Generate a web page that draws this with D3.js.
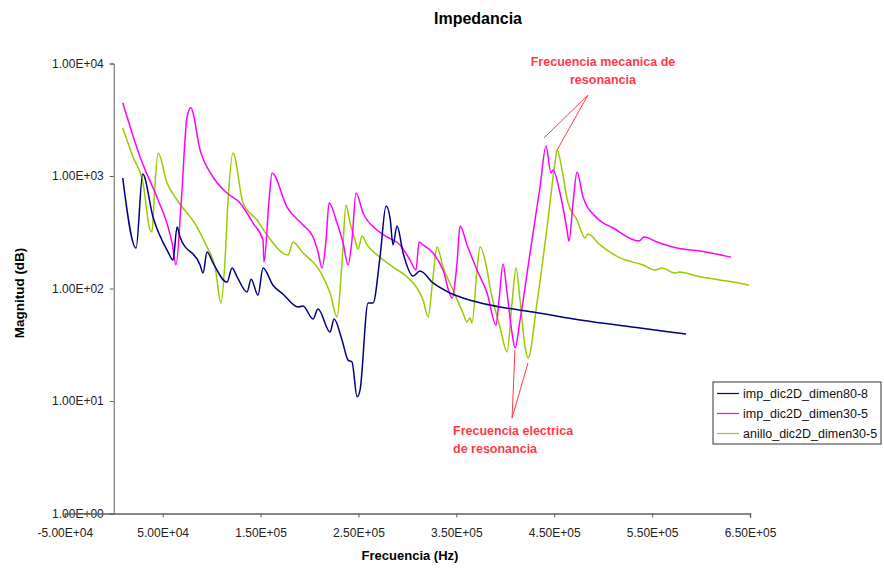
<!DOCTYPE html>
<html>
<head>
<meta charset="utf-8">
<script src="https://cdn.jsdelivr.net/npm/d3@7/dist/d3.min.js"></script>
<style>
  html, body { margin: 0; padding: 0; background: #ffffff; }
  svg { display: block; }
  text { font-family: "Liberation Sans", Arial, sans-serif; }
</style>
</head>
<body>
<svg id="chart" width="884" height="568"></svg>
<script>
// Frequency (Hz) and impedance magnitude for each simulated transducer
const freq80_8 = [9200, 22800, 29600, 40100, 55500, 60600, 64700, 67700, 88200, 91200, 95300, 101400, 115700, 120900, 126000, 136200, 140300, 147400, 152500, 162700, 173000, 188300, 193400, 203600, 208700, 221000, 225100, 233200, 239400, 243400, 248600, 251600, 259800, 264900, 272000, 278200, 282300, 285300, 289400, 295600, 305800, 312900, 326200, 343600, 367100, 394600, 428400, 476400, 537700, 584700];
const mag80_8 = [960, 229, 1042, 432, 211, 179, 352, 287, 162, 137, 211, 169, 114, 152, 127, 93, 121, 87.5, 152, 107, 89, 68.5, 69.9, 53.6, 65.7, 41.0, 53.6, 34.8, 23.1, 22.2, 10.9, 12.5, 74.3, 74.3, 190, 541, 423, 244, 359, 207, 129, 143, 112, 91.2, 77.4, 68.5, 61.8, 52.5, 44.6, 39.4];

const freq30_5 = [9200, 26900, 45300, 55500, 59600, 63600, 68750, 74900, 78700, 88200, 101400, 115700, 129000, 142300, 152500, 153500, 158700, 161700, 177000, 193400, 203600, 208700, 212800, 216900, 220000, 228100, 234300, 239400, 243400, 247500, 254700, 269000, 279200, 292500, 302700, 308800, 311900, 316000, 326200, 336400, 345600, 350700, 353800, 360900, 371100, 381400, 390600, 393600, 397700, 401800, 406900, 410000, 415100, 425300, 435500, 441600, 446700, 448800, 455900, 463100, 465100, 469200, 473300, 479400, 493700, 510100, 536600, 541800, 555000, 575500, 599000, 630600];
const mag30_5 = [4485, 1476, 612, 352, 254, 162, 552, 3345, 4047, 1702, 980, 706, 575, 382, 270, 172, 612, 1063, 530, 367, 287, 211, 152, 270, 575, 382, 254, 162, 270, 706, 469, 331, 287, 244, 179, 146, 259, 244, 207, 146, 82.4, 169, 359, 244, 146, 91.2, 47.4, 79, 165, 91.2, 40.2, 29.6, 52.5, 207, 798, 1849, 1063, 1131, 706, 331, 264, 575, 1086, 651, 423, 345, 264, 287, 259, 229, 215, 190];

const freqRing = [9200, 19700, 29900, 37100, 39100, 41200, 45300, 54500, 64700, 85100, 95300, 103500, 109600, 113700, 116800, 121900, 132100, 146400, 156600, 178100, 183200, 193400, 208700, 213800, 221000, 228100, 233200, 237300, 241400, 246500, 249600, 253700, 258800, 272000, 285300, 299600, 309800, 316000, 321100, 326200, 330300, 336400, 346600, 356800, 360900, 364000, 366000, 371100, 374200, 381400, 384400, 394600, 401800, 406900, 411000, 415100, 420200, 423300, 432400, 442700, 450800, 452900, 458000, 464100, 473300, 481500, 484500, 496800, 517200, 540700, 553000, 560100, 573400, 577500, 599000, 632700, 649000];
const magRing = [2672, 1476, 866, 331, 318, 612, 1601, 866, 612, 352, 234, 155, 74.3, 179, 612, 1601, 575, 406, 299, 199, 259, 207, 152, 127, 91.2, 55.8, 169, 552, 382, 270, 224, 293, 244, 190, 155, 127, 101, 79, 55.8, 127, 234, 155, 97, 60.5, 50.4, 54.7, 49.4, 146, 234, 146, 103, 45.5, 27.3, 74.3, 152, 79, 30.2, 24.1, 74.3, 352, 1305, 1702, 1131, 575, 406, 281, 305, 244, 187, 162, 146, 152, 137, 140, 127, 114, 107];

const seriesNames = ["imp_dic2D_dimen80-8", "imp_dic2D_dimen30-5", "anillo_dic2D_dimen30-5"];
const seriesColors = ["#000080", "#ff00ff", "#99cc00"];

// Axis ticks
const xTicks = [-50000, 50000, 150000, 250000, 350000, 450000, 550000, 650000];
const yTicks = [1, 10, 100, 1000, 10000];

// Annotation text
const mechLines = ["Frecuencia mecanica de", "resonancia"];
const elecLines = ["Frecuencia electrica", "de resonancia"];
// Leader lines (data units): common origin near the label, ends near the resonance peaks/dips
const mechOrigin = [484500, 5250];
const mechTargets = [[439600, 2180], [452900, 1700]];
const elecOrigin = [406900, 7.06];
const elecTargets = [[409900, 28.4], [423200, 21.8]];

const svg = d3.select("#chart");

const x = d3.scaleLinear().domain([-50000, 650000]).range([64.8, 750]);
const y = d3.scaleLog().domain([1, 10000]).range([513.5, 63.5]);

// Scientific notation with a two-digit exponent, e.g. 5.00E+04
function sci(v) {
  const s = d3.format(".2e")(v).replace("\u2212", "-");
  const m = s.split("e");
  const sign = m[1][0];
  const digits = m[1].slice(1).padStart(2, "0");
  return m[0] + "E" + sign + digits;
}

const axisColor = "#606060";
const x0 = x(0);

// Title
svg.append("text")
  .attr("x", 478).attr("y", 24)
  .attr("text-anchor", "middle")
  .attr("font-size", 16).attr("font-weight", "bold")
  .attr("fill", "#000")
  .text("Impedancia");

// Axis titles
svg.append("text")
  .attr("transform", "translate(24,293) rotate(-90)")
  .attr("text-anchor", "middle")
  .attr("font-size", 13.5).attr("font-weight", "bold")
  .text("Magnitud (dB)");

svg.append("text")
  .attr("x", 410).attr("y", 560)
  .attr("text-anchor", "middle")
  .attr("font-size", 13).attr("font-weight", "bold")
  .text("Frecuencia (Hz)");

// Y axis, crossing at x = 0
const yAxis = d3.axisLeft(y).tickValues(yTicks).tickFormat(sci).tickSize(4).tickPadding(6);
const gy = svg.append("g").attr("transform", `translate(${x0},0)`).call(yAxis);
gy.select(".domain").attr("stroke", axisColor);
gy.selectAll(".tick line").attr("stroke", axisColor);
gy.selectAll(".tick text").attr("font-size", 12).attr("fill", "#222")
  .attr("font-family", "'Liberation Sans', Arial, sans-serif");

// Curves
const line = d3.line()
  .x(d => x(d[0]))
  .y(d => y(d[1]))
  .curve(d3.curveMonotoneX);

const seriesData = [
  d3.zip(freq80_8, mag80_8),
  d3.zip(freq30_5, mag30_5),
  d3.zip(freqRing, magRing)
];

// Draw ring first, then 30-5, then 80-8 on top
[2, 1, 0].forEach(i => {
  svg.append("path")
    .datum(seriesData[i])
    .attr("fill", "none")
    .attr("stroke", seriesColors[i])
    .attr("stroke-width", 1.5)
    .attr("stroke-linejoin", "round")
    .attr("d", line);
});

// X axis along the bottom
const xAxis = d3.axisBottom(x).tickValues(xTicks).tickFormat(sci).tickSize(4).tickPadding(11);
const gx = svg.append("g").attr("transform", `translate(0,${y(1)})`).call(xAxis);
gx.select(".domain").attr("stroke", axisColor).attr("stroke-width", 1.5);
gx.selectAll(".tick line").attr("stroke", axisColor);
gx.selectAll(".tick text").attr("font-size", 12).attr("fill", "#222")
  .attr("font-family", "'Liberation Sans', Arial, sans-serif");

// Legend
const lg = svg.append("g").attr("transform", "translate(713,382)");
lg.append("rect")
  .attr("width", 168).attr("height", 62)
  .attr("fill", "#fff").attr("stroke", "#333").attr("stroke-width", 1);
seriesNames.forEach((name, i) => {
  const ly = 11.5 + i * 20;
  lg.append("line")
    .attr("x1", 4).attr("x2", 26).attr("y1", ly).attr("y2", ly)
    .attr("stroke", seriesColors[i]).attr("stroke-width", 1.2);
  lg.append("text")
    .attr("x", 30).attr("y", ly + 4.5)
    .attr("font-size", 12.5).attr("fill", "#111")
    .text(name);
});

// Annotations
const red = "#ff3a48";
const ann = svg.append("g");
mechTargets.forEach(t => {
  ann.append("line")
    .attr("x1", x(mechOrigin[0])).attr("y1", y(mechOrigin[1]))
    .attr("x2", x(t[0])).attr("y2", y(t[1]))
    .attr("stroke", red).attr("stroke-width", 1);
});
elecTargets.forEach(t => {
  ann.append("line")
    .attr("x1", x(elecOrigin[0])).attr("y1", y(elecOrigin[1]))
    .attr("x2", x(t[0])).attr("y2", y(t[1]))
    .attr("stroke", red).attr("stroke-width", 1);
});

mechLines.forEach((s, i) => {
  ann.append("text")
    .attr("x", 603).attr("y", 66 + i * 18)
    .attr("text-anchor", "middle")
    .attr("font-family", "Lato, 'Open Sans', sans-serif")
    .attr("font-size", 12.5).attr("font-weight", "bold")
    .attr("fill", red)
    .text(s);
});
elecLines.forEach((s, i) => {
  ann.append("text")
    .attr("x", 453).attr("y", 435 + i * 18)
    .attr("text-anchor", "start")
    .attr("font-family", "Lato, 'Open Sans', sans-serif")
    .attr("font-size", 12.5).attr("font-weight", "bold")
    .attr("fill", red)
    .text(s);
});
</script>
</body>
</html>
